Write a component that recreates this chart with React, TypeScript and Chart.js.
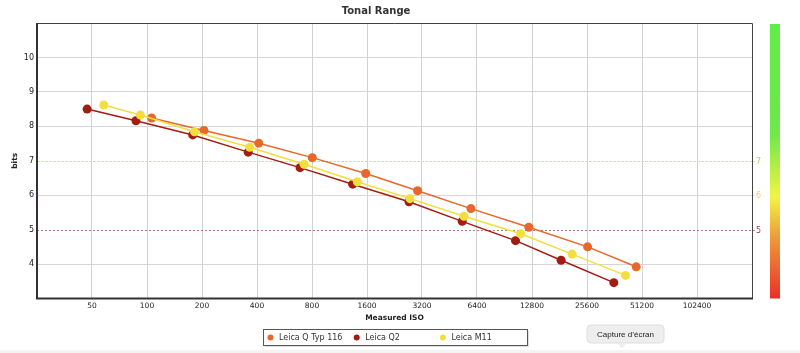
import React, { useEffect, useRef } from "react";
import { Chart, registerables } from "chart.js";

Chart.register(...registerables);

const isoTicks = [50, 100, 200, 400, 800, 1600, 3200, 6400, 12800, 25600, 51200, 102400];

const seriesNames = ["Leica Q Typ 116", "Leica Q2", "Leica M11"];

const qTyp116Iso = [106, 205, 409, 803, 1574, 3027, 5930, 12300, 25800, 47600];
const qTyp116Bits = [8.24, 7.88, 7.51, 7.09, 6.63, 6.13, 5.61, 5.07, 4.5, 3.92];

const q2Iso = [47, 87, 178, 358, 688, 1336, 2716, 5310, 10400, 18470, 35900];
const q2Bits = [8.5, 8.16, 7.75, 7.25, 6.8, 6.32, 5.81, 5.24, 4.68, 4.11, 3.46];

const m11Iso = [58, 92, 182, 365, 724, 1416, 2750, 5430, 11100, 21200, 41600];
const m11Bits = [8.62, 8.33, 7.84, 7.39, 6.9, 6.39, 5.9, 5.39, 4.88, 4.29, 3.67];

const refLevels = [7, 6, 5];

const seriesColors = ["#e8672b", "#a31c12", "#f2df3e"];
const seriesOrder = [2, 1, 0];
const refLineColors = ["#c6e8a2", "#e4dcae", "#b87878"];
const refLabelColors = ["#a2d86a", "#f0c86a", "#b23c3c"];

const FONT = "'DejaVu Sans', Verdana, sans-serif";

function pts(xs: number[], ys: number[]) {
  return xs.map((x, i) => ({ x, y: ys[i] }));
}

const decorPlugin = {
  id: "decor",
  beforeDatasetsDraw(chart: any) {
    const { ctx, chartArea, scales } = chart;
    const y = scales.y;
    ctx.save();
    refLevels.forEach((lvl, i) => {
      const py = Math.round(y.getPixelForValue(lvl)) + 0.5;
      ctx.beginPath();
      ctx.strokeStyle = refLineColors[i];
      ctx.lineWidth = 1;
      if (lvl === 5) ctx.setLineDash([2, 2]);
      else if (lvl === 7) ctx.setLineDash([3, 1]);
      else ctx.setLineDash([]);
      ctx.moveTo(chartArea.left, py);
      ctx.lineTo(chartArea.right + 3, py);
      ctx.stroke();
      ctx.setLineDash([]);
      ctx.fillStyle = refLabelColors[i];
      ctx.font = `8px ${FONT}`;
      ctx.textAlign = "left";
      ctx.textBaseline = "middle";
      ctx.fillText(String(lvl), chartArea.right + 4, py);
    });
    ctx.restore();
  },
  afterDraw(chart: any) {
    const { ctx, chartArea } = chart;
    const { left, right, top, bottom } = chartArea;
    ctx.save();
    // frame
    ctx.strokeStyle = "#444";
    ctx.lineWidth = 1;
    ctx.beginPath();
    ctx.moveTo(left, top + 0.5);
    ctx.lineTo(right + 0.5, top + 0.5);
    ctx.lineTo(right + 0.5, bottom);
    ctx.stroke();
    ctx.strokeStyle = "#333";
    ctx.lineWidth = 2;
    ctx.beginPath();
    ctx.moveTo(left, top);
    ctx.lineTo(left, bottom);
    ctx.lineTo(right + 1, bottom);
    ctx.stroke();

    // gradient bar
    const gx = 770;
    const gw = 10;
    const grad = ctx.createLinearGradient(0, top + 1, 0, bottom);
    grad.addColorStop(0, "#62ec48");
    grad.addColorStop(0.4, "#6ee84a");
    grad.addColorStop(0.63, "#f2f444");
    grad.addColorStop(0.78, "#ec9a3a");
    grad.addColorStop(1, "#e8302a");
    ctx.fillStyle = grad;
    ctx.fillRect(gx, top + 1, gw, bottom - top - 1);

    // legend
    const lx = 263, ly = 329, lw = 264, lh = 16;
    ctx.fillStyle = "rgba(0,0,0,0.12)";
    ctx.fillRect(lx + 2, ly + 2, lw, lh);
    ctx.fillStyle = "#fff";
    ctx.fillRect(lx, ly, lw, lh);
    ctx.strokeStyle = "#555";
    ctx.lineWidth = 1;
    ctx.strokeRect(lx + 0.5, ly + 0.5, lw, lh);
    chart.data.datasets.forEach((ds: any, i: number) => {
      const mx = 270.5 + i * 86.2;
      const my = ly + lh / 2 + 0.5;
      ctx.beginPath();
      ctx.fillStyle = ds.backgroundColor;
      ctx.arc(mx, my, 3, 0, Math.PI * 2);
      ctx.fill();
      ctx.fillStyle = "#333";
      ctx.font = `8px ${FONT}`;
      ctx.textAlign = "left";
      ctx.textBaseline = "middle";
      ctx.fillText(ds.label, mx + 8.5, my);
    });

    // bottom strip
    ctx.fillStyle = "#f4f4f4";
    ctx.fillRect(0, 350, 800, 3);

    // screenshot tooltip bubble
    const tx = 587, ty = 325, tw = 77, th = 18;
    ctx.fillStyle = "#eeeeee";
    ctx.strokeStyle = "#dedede";
    ctx.beginPath();
    ctx.roundRect(tx, ty, tw, th, 4);
    ctx.fill();
    ctx.stroke();
    ctx.beginPath();
    ctx.moveTo(617, ty + th);
    ctx.lineTo(622, ty + th + 5);
    ctx.lineTo(627, ty + th);
    ctx.closePath();
    ctx.fillStyle = "#eeeeee";
    ctx.fill();
    ctx.fillStyle = "#222";
    ctx.font = "8px 'Liberation Sans', Arial, sans-serif";
    ctx.textAlign = "center";
    ctx.textBaseline = "middle";
    ctx.fillText("Capture d’écran", tx + tw / 2, ty + th / 2 + 0.5);
    ctx.restore();
  },
};

export default function App() {
  const ref = useRef<HTMLCanvasElement | null>(null);
  useEffect(() => {
    document.body.style.margin = "0";
    const canvas = ref.current;
    if (!canvas) return;
    const serie = [
      pts(qTyp116Iso, qTyp116Bits),
      pts(q2Iso, q2Bits),
      pts(m11Iso, m11Bits),
    ];
    const chart = new Chart(canvas, {
      type: "line",
      data: {
        datasets: serie.map((d, i) => ({
          label: seriesNames[i],
          data: d,
          order: seriesOrder[i],
          borderColor: seriesColors[i],
          backgroundColor: seriesColors[i],
          pointBackgroundColor: seriesColors[i],
          pointBorderWidth: 0,
          pointRadius: 4.5,
          borderWidth: 1.5,
          tension: 0,
          fill: false,
        })),
      },
      options: {
        responsive: false,
        animation: false,
        devicePixelRatio: 1,
        layout: { padding: { left: 0, right: 48, top: 0, bottom: 29.5 } },
        plugins: {
          legend: { display: false },
          tooltip: { enabled: false },
          title: {
            display: true,
            text: "Tonal Range",
            color: "#333",
            font: { family: FONT, size: 10, weight: "bold" },
            padding: { top: 5.5, bottom: 5.5 },
          },
        },
        scales: {
          x: {
            type: "logarithmic",
            min: 25,
            max: 204800,
            bounds: "data",
            afterBuildTicks: (scale: any) => {
              scale.ticks = isoTicks.map((v) => ({ value: v }));
            },
            afterFit: (scale: any) => {
              scale.height = 25;
            },
            ticks: {
              autoSkip: false,
              maxRotation: 0,
              minRotation: 0,
              padding: 3.5,
              color: "#222",
              font: { family: FONT, size: 7.5 },
              callback: (v: any) => String(v),
            },
            grid: { color: "#d2d2d2", drawTicks: false, lineWidth: 1 },
            border: { display: false },
            title: {
              display: true,
              text: "Measured ISO",
              color: "#222",
              font: { family: FONT, size: 7.5, weight: "bold" },
              padding: { top: 0, bottom: 1 },
            },
          },
          y: {
            type: "linear",
            min: 3,
            max: 11,
            afterFit: (scale: any) => {
              scale.width = 37;
            },
            ticks: {
              stepSize: 1,
              padding: 3,
              color: "#222",
              font: { family: FONT, size: 8 },
              callback: (v: any) => (v >= 4 && v <= 10 ? String(v) : ""),
            },
            grid: {
              drawTicks: false,
              color: (c: any) => {
                const v = c.tick && c.tick.value;
                return v === 4 || (v >= 8 && v <= 10) ? "#d6d6d6" : "rgba(0,0,0,0)";
              },
            },
            border: { display: false },
            title: {
              display: true,
              text: "bits",
              color: "#222",
              font: { family: FONT, size: 7.5, weight: "bold" },
              padding: { top: 10.5, bottom: 0 },
            },
          },
        },
      } as any,
      plugins: [decorPlugin],
    });
    return () => chart.destroy();
  }, []);
  return (
    <div style={{ width: 800, height: 353, background: "#fff" }}>
      <canvas ref={ref} width={800} height={353} style={{ display: "block" }} />
    </div>
  );
}
